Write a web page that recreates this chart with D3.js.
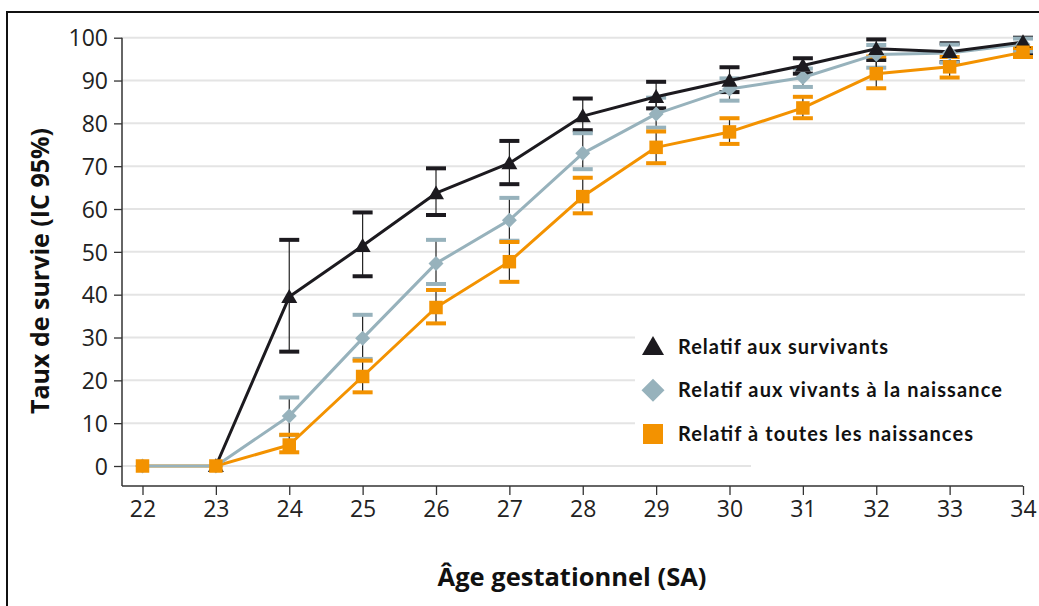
<!DOCTYPE html>
<html><head><meta charset="utf-8">
<script src="https://cdn.jsdelivr.net/npm/d3@7"></script>
<style>html,body{margin:0;padding:0;background:#fff;}svg{display:block;}</style>
</head><body>
<svg id="c" width="1039" height="606"></svg>
<script>
const weeks = [22,23,24,25,26,27,28,29,30,31,32,33,34];
const yTicks = [0,10,20,30,40,50,60,70,80,90,100];

const survivants = [null,0,39.5,51.4,63.7,70.7,81.7,86.2,90.0,93.5,97.4,96.7,99.0];
const survLow    = [null,null,26.7,44.3,58.6,65.8,78.4,83.5,87.3,91.6,94.8,94.3,96.2];
const survHigh   = [null,null,52.8,59.2,69.5,75.9,85.8,89.7,93.1,95.2,99.6,98.7,100];

const vivants = [0,0,11.7,29.8,47.3,57.4,73.0,82.2,88.0,90.7,96.1,96.4,98.5];
const vivLow  = [null,null,7.2,25.0,42.5,52.6,69.3,79.0,85.3,88.5,93.0,94.2,96.8];
const vivHigh = [null,null,16.0,35.3,52.8,62.6,77.7,86.0,90.5,92.8,98.3,98.4,99.8];

const toutes   = [0,0,4.9,20.9,37.0,47.7,62.9,74.4,78.0,83.6,91.6,93.2,96.6];
const toutLow  = [null,null,3.2,17.2,33.3,43.0,59.0,70.7,75.2,81.2,88.2,90.7,95.5];
const toutHigh = [null,null,7.3,24.6,41.1,52.3,67.3,78.1,81.2,86.2,95.6,95.5,97.6];

const legendLabels = ["Relatif aux survivants","Relatif aux vivants à la naissance","Relatif à toutes les naissances"];
const xTitle = "Âge gestationnel (SA)";
const yTitle = "Taux de survie (IC 95%)";

const series = [
  {name: legendLabels[0], vals: survivants, lo: survLow, hi: survHigh, color: "#1c1a1f", shape: "tri"},
  {name: legendLabels[1], vals: vivants, lo: vivLow, hi: vivHigh, color: "#97b2bc", shape: "dia"},
  {name: legendLabels[2], vals: toutes, lo: toutLow, hi: toutHigh, color: "#f39200", shape: "sq"}
];

const svg = d3.select("#c");
const x = d3.scaleLinear().domain([22,34]).range([142.5,1023]);
const y = d3.scaleLinear().domain([0,100]).range([466,37.7]);
const axisLeftX = 122, axisBottomY = 486;
const tickFont = "'Open Sans', sans-serif";

function markerPath(shape, w){
  if(shape==="tri") return d3.symbol().type(d3.symbolTriangle).size(w*w*Math.sqrt(3)/4)();
  if(shape==="dia") return d3.symbol().type(d3.symbolSquare).size(w*w/2)();
  return d3.symbol().type(d3.symbolSquare).size(w*w)();
}
function markerRot(shape){ return shape==="dia" ? " rotate(45)" : ""; }
function markerDy(shape){ return shape==="tri" ? 1.5 : 0; }

// frame
svg.append("rect").attr("x",7).attr("y",12).attr("width",1100).attr("height",700)
  .attr("fill","none").attr("stroke","#111").attr("stroke-width",2);

// gridlines
svg.append("g").selectAll("line").data(yTicks).join("line")
  .attr("x1",axisLeftX).attr("x2",1025)
  .attr("y1",d=>y(d)).attr("y2",d=>y(d))
  .attr("stroke","#e4e4e4").attr("stroke-width",2);

// legend backdrop (hides gridlines)
svg.append("rect").attr("x",635).attr("y",305).attr("width",400).attr("height",145).attr("fill","#fff");
svg.append("rect").attr("x",751).attr("y",455).attr("width",280).attr("height",20).attr("fill","#fff");

// axes
const yAxis = d3.axisLeft(y).tickValues(yTicks).tickSize(8).tickPadding(6);
const gy = svg.append("g").attr("transform",`translate(${axisLeftX},0)`).call(yAxis);
gy.select(".domain").remove();
gy.selectAll(".tick line").attr("stroke","#333").attr("stroke-width",1.3);
gy.selectAll(".tick text").attr("font-family",tickFont).attr("font-size",23).attr("fill","#222").attr("dy","0.36em");
svg.append("line").attr("x1",axisLeftX).attr("x2",axisLeftX).attr("y1",y(100)).attr("y2",axisBottomY)
  .attr("stroke","#333").attr("stroke-width",1.5);

const xAxis = d3.axisBottom(x).tickValues(weeks).tickSize(9).tickPadding(6).tickFormat(d3.format("d"));
const gx = svg.append("g").attr("transform",`translate(0,${axisBottomY})`).call(xAxis);
gx.select(".domain").remove();
gx.selectAll(".tick line").attr("stroke","#333").attr("stroke-width",1.3);
gx.selectAll(".tick text").attr("font-family",tickFont).attr("font-size",23).attr("fill","#222");
svg.append("line").attr("x1",axisLeftX).attr("x2",x(34)).attr("y1",axisBottomY).attr("y2",axisBottomY)
  .attr("stroke","#333").attr("stroke-width",1.5);

// titles
svg.append("text").attr("x",572).attr("y",586).attr("text-anchor","middle")
  .attr("font-family",tickFont).attr("font-weight","bold").attr("font-size",25.5).attr("fill","#111").text(xTitle);
svg.append("text").attr("transform","translate(49,271) rotate(-90)").attr("text-anchor","middle")
  .attr("font-family",tickFont).attr("font-weight","bold").attr("font-size",25).attr("fill","#111").text(yTitle);

// error bars
const capW = 20;
series.forEach(s=>{
  const g = svg.append("g");
  const idx = weeks.map((w,i)=>i).filter(i=>s.lo[i]!==null);
  g.selectAll("line.stem").data(idx).join("line").attr("class","stem")
    .attr("x1",i=>x(weeks[i])).attr("x2",i=>x(weeks[i]))
    .attr("y1",i=>y(s.lo[i])).attr("y2",i=>y(s.hi[i]))
    .attr("stroke","#222").attr("stroke-width",1.2);
  ["lo","hi"].forEach(k=>{
    g.selectAll("line.cap"+k).data(idx).join("line").attr("class","cap"+k)
      .attr("x1",i=>x(weeks[i])-capW/2).attr("x2",i=>x(weeks[i])+capW/2)
      .attr("y1",i=>y(s[k][i])).attr("y2",i=>y(s[k][i]))
      .attr("stroke",s.color).attr("stroke-width",4);
  });
});

// lines
const line = d3.line().defined(d=>d!==null).x((d,i)=>x(weeks[i])).y(d=>y(d));
[series[2],series[1],series[0]].forEach(s=>{
  svg.append("path").datum(s.vals).attr("d",line).attr("fill","none")
    .attr("stroke",s.color).attr("stroke-width",3).attr("stroke-linejoin","round");
});

// markers
const plotW = {tri:16, dia:15, sq:13.5};
[1,0,2].forEach(k=>{
  const s = series[k];
  const pts = s.vals.map((v,i)=>({v, i})).filter(d=>d.v!==null);
  svg.append("g").selectAll("path").data(pts).join("path")
    .attr("transform",d=>`translate(${x(weeks[d.i])},${y(d.v) + markerDy(s.shape)})${markerRot(s.shape)}`)
    .attr("d",markerPath(s.shape, plotW[s.shape]))
    .attr("fill",s.color);
});

// legend
const legY = [346.7, 390.3, 434];
const legW = [210, 324, 295];
const legSize = {tri:22, dia:23, sq:20};
const lg = svg.append("g");
series.forEach((s,k)=>{
  lg.append("path").attr("transform",`translate(653,${legY[k] + (s.shape==="tri"?2:0)})${markerRot(s.shape)}`)
    .attr("d",markerPath(s.shape, legSize[s.shape]))
    .attr("fill",s.color);
  lg.append("text").attr("x",678).attr("y",legY[k]+7)
    .attr("font-family","Lato, sans-serif").attr("font-weight","bold").attr("font-size",20)
    .attr("fill","#111").attr("textLength",legW[k]).attr("lengthAdjust","spacing").text(s.name);
});
</script>
</body></html>
